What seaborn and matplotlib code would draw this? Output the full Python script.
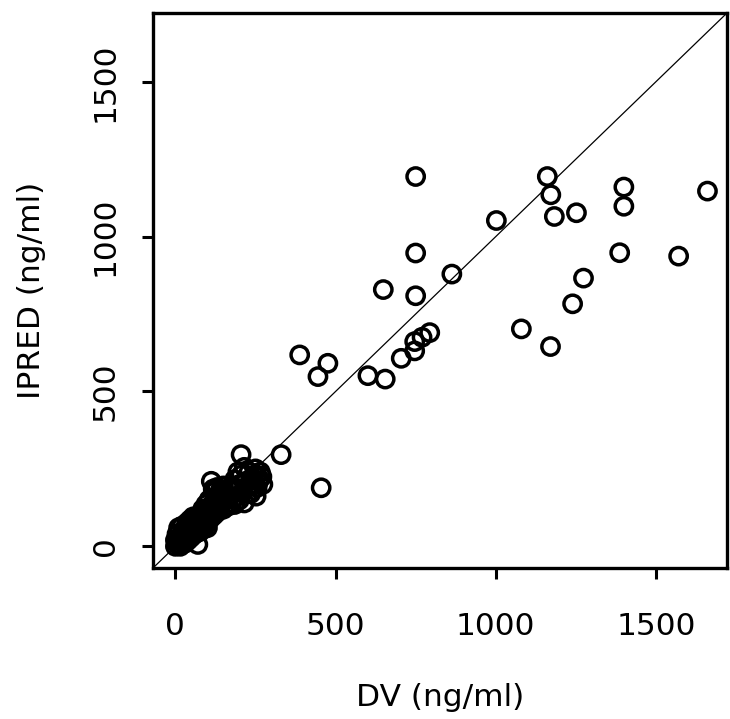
import matplotlib
matplotlib.use("Agg")
import matplotlib.pyplot as plt
import seaborn as sns
import pandas as pd

# Outlying (individually visible) points: DV, IPRED
dv_out = [750, 1161, 1172, 1400, 1400, 1661, 1183, 1252, 1002, 750, 1387, 1571,
          863, 1274, 750, 649, 1240, 1080, 1171, 794, 770, 747, 747, 705, 601,
          655, 388, 476, 445, 330, 455, 205, 252, 273, 112, 70]
ipred_out = [1194, 1194, 1135, 1160, 1098, 1147, 1065, 1077, 1052, 947, 948, 937,
             879, 866, 809, 829, 783, 702, 645, 690, 675, 661, 631, 607, 551,
             540, 618, 591, 548, 296, 189, 296, 162, 200, 210, 6]

# Dense low-concentration cluster
dv_low = [0, 5, 10, 10, 15, 20, 20, 25, 30, 30, 35, 40, 40, 45, 50, 50, 55, 60, 60, 65,
          5, 10, 20, 0, 15, 25, 35, 45, 55,
          70, 75, 80, 85, 90, 90, 95, 100, 100, 105, 110, 110, 115, 120, 120, 125, 130,
          80, 100, 130, 70, 85, 95, 105,
          118, 120, 130, 135, 140, 145, 150, 155, 160, 165, 170, 175, 150, 160, 140, 175,
          125, 145, 165,
          180, 185, 190, 195, 200, 205, 210, 215, 220, 225, 230, 235, 240, 245, 250,
          255, 260, 265, 270, 200, 185, 215, 235, 255, 225, 245]
ipred_low = [0, 10, 5, 20, 30, 15, 40, 25, 50, 10, 35, 60, 20, 45, 70, 30, 55, 80, 40, 60,
             40, 60, 65, 20, 0, 50, 75, 85, 95,
             80, 100, 70, 95, 110, 60, 85, 120, 75, 100, 130, 90, 110, 140, 100, 125, 150,
             50, 60, 110, 45, 120, 135, 150,
             185, 175, 190, 165, 180, 140, 195, 170, 150, 185, 160, 140, 120, 130, 130, 195,
             155, 160, 130,
             180, 215, 160, 240, 200, 230, 175, 255, 210, 190, 240, 170, 220, 200, 250,
             230, 210, 240, 225, 150, 135, 140, 200, 190, 170, 230]

xticks = [0, 500, 1000, 1500]
yticks = [0, 500, 1000, 1500]
lims = [-70, 1722]

df = pd.DataFrame({"DV": dv_out + dv_low, "IPRED": ipred_out + ipred_low})

sns.set_style("ticks")
plt.rcParams["font.family"] = ["DejaVu Sans"]
plt.rcParams["text.color"] = "black"
plt.rcParams["axes.labelcolor"] = "black"
plt.rcParams["xtick.color"] = "black"
plt.rcParams["ytick.color"] = "black"

fig = plt.figure(figsize=(7.30, 7.19), dpi=100)
ax = fig.add_axes([153 / 730, 1 - 568 / 719, (727 - 153) / 730, (568 - 13) / 719])

ax.plot(lims, lims, color="black", lw=0.9, zorder=1)
sns.scatterplot(data=df, x="DV", y="IPRED", ax=ax, s=155, facecolor="none",
                edgecolor="black", linewidth=2.5, zorder=2)

ax.set_xlim(lims)
ax.set_ylim(lims)
ax.set_xticks(xticks)
ax.set_yticks(yticks)
ax.set_xticklabels([str(t) for t in xticks], fontsize=22.5, color="black")
ax.set_yticklabels([str(t) for t in yticks], fontsize=22.5, rotation=90, va="center",
                   color="black")
ax.tick_params(axis="both", length=8, width=2.2, color="black")
ax.tick_params(axis="x", pad=24)
ax.tick_params(axis="y", pad=16)
for sp in ax.spines.values():
    sp.set_linewidth(2.4)
    sp.set_color("black")
    sp.set_visible(True)

ax.set_xlabel("DV (ng/ml)", fontsize=22.5, labelpad=30, color="black")
ax.set_ylabel("IPRED (ng/ml)", fontsize=22.5, labelpad=32, color="black")

fig.savefig("out.png", dpi=100)
